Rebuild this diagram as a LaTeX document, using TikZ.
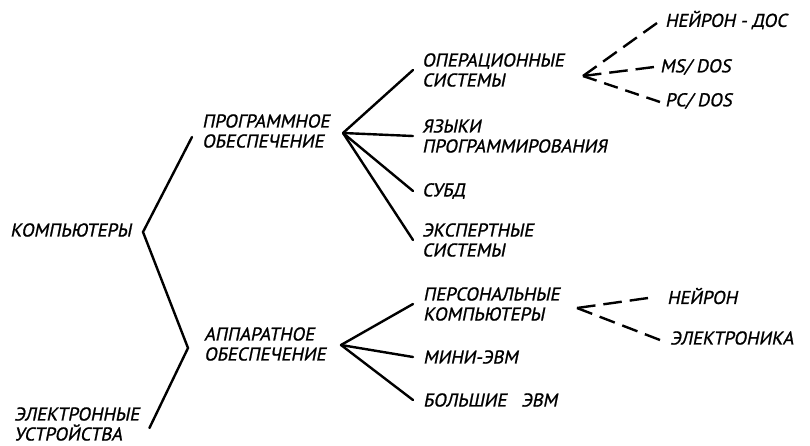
\documentclass[tikz,border=0pt]{standalone}
\usepackage{fontspec}
\newfontfamily\lbl{PT Sans}[FakeSlant=0.2,FakeBold=1.1]
\begin{document}
\begin{tikzpicture}[x=1pt,y=-1pt,
  lab/.style={anchor=west,inner sep=0pt,align=left,
    font=\lbl\fontsize{18.5}{20}\selectfont},
  branch/.style={line width=2.4pt,line join=miter,line cap=round},
  alt/.style={line width=2.4pt,dash pattern=on #1 off 8pt},
  alt/.default=14pt]
\useasboundingbox (0,0) rectangle (810,445);

% classification labels
\node[lab] (komp)   at (10,230)  {КОМПЬЮТЕРЫ};
\node[lab] (elec)   at (14,424)  {ЭЛЕКТРОННЫЕ\\УСТРОЙСТВА};
\node[lab] (soft)   at (202,131) {ПРОГРАММНОЕ\\ОБЕСПЕЧЕНИЕ};
\node[lab] (hard)   at (204,344) {АППАРАТНОЕ\\ОБЕСПЕЧЕНИЕ};
\node[lab] (os)     at (422,70)  {ОПЕРАЦИОННЫЕ\\СИСТЕМЫ};
\node[lab] (lang)   at (422,136) {ЯЗЫКИ\\ПРОГРАММИРОВАНИЯ};
\node[lab] (dbms)   at (422,191) {СУБД};
\node[lab] (expert) at (422,240) {ЭКСПЕРТНЫЕ\\СИСТЕМЫ};
\node[lab] (pc)     at (423,304) {ПЕРСОНАЛЬНЫЕ\\КОМПЬЮТЕРЫ};
\node[lab] (mini)   at (423,357) {МИНИ-ЭВМ};
\node[lab] (big)    at (423,400) {БОЛЬШИЕ\ \ \ ЭВМ};
\node[lab] (ndos)   at (665,20)  {НЕЙРОН - ДОС};
\node[lab] (msdos)  at (660,67)  {MS/ DOS};
\node[lab] (pcdos)  at (665,101) {PC/ DOS};
\node[lab] (nhw)    at (667,296) {НЕЙРОН};
\node[lab] (elk)    at (670,338) {ЭЛЕКТРОНИКА};

% branching points
\coordinate (kv) at (143,232);
\coordinate (hv) at (188,348);
\coordinate (sv) at (343,133);
\coordinate (av) at (341,345);
\coordinate (ov) at (583,76);
\coordinate (pv) at (577,308);

% computers / electronic devices bracket
\draw[branch] ([shift={(-10,6)}]soft.west) -- (kv) -- (hv)
  -- ([shift={(10,4)}]elec.east);

% software fan
\foreach \t in {os,lang,dbms,expert}
  \draw[branch] (sv) -- ([xshift=-9pt]\t.west);

% hardware fan
\foreach \t in {pc,mini,big}
  \draw[branch] (av) -- ([xshift=-10pt]\t.west);

% examples, dashed (dash lengths chosen so each line ends on a full dash)
\draw[alt=16.75pt] (ov) -- ([shift={(-8,3)}]ndos.west);
\draw[alt=18.5pt]  (ov) -- ([xshift=-6pt]msdos.west);
\draw[alt=14.3pt]  (ov) -- ([shift={(-5,1)}]pcdos.west);
\draw[alt=18.6pt]  (pv) -- ([shift={(-19,2)}]nhw.west);
\draw[alt=16.25pt] (pv) -- ([shift={(-10,2)}]elk.west);
\end{tikzpicture}
\end{document}
